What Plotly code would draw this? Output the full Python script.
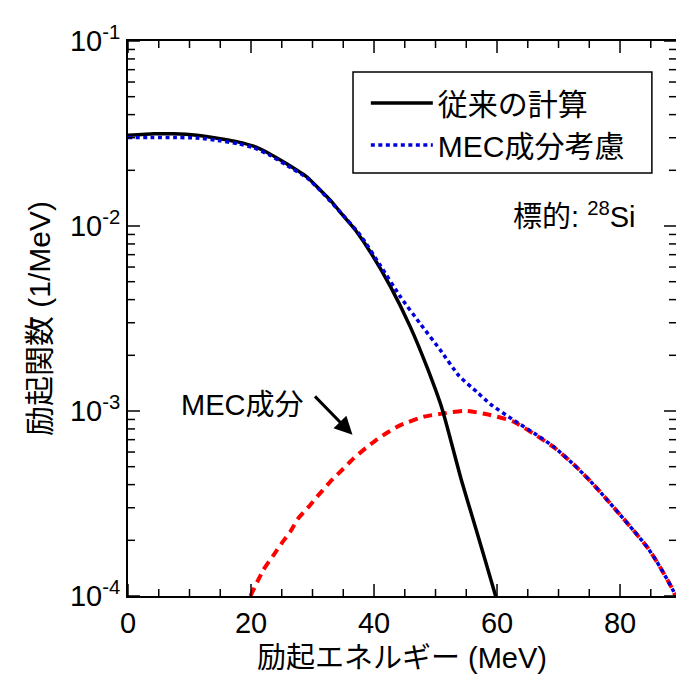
import plotly.graph_objects as go

# --- data ---
conv_x = [0, 4.2, 7.4, 11.2, 15, 18, 20.4, 23, 25.8, 29.1, 31.3, 32.9, 34.5, 36.1, 37.2, 39.4,
          42.7, 45.9, 48.6, 51.1, 54.2, 56.6, 59.7, 60.1]
conv_y = [0.0309, 0.0315, 0.0315, 0.0309, 0.0296, 0.0284, 0.0270, 0.0246, 0.0217, 0.0184,
          0.0156, 0.0138, 0.0119, 0.0103, 0.00929, 0.00724, 0.00469, 0.00285, 0.00173,
          0.00102, 0.000424, 0.000229, 0.000102, 0.0000912]

tot_x = [0, 4.2, 7.4, 11.2, 15, 18, 20.4, 23, 25.8, 29.1, 31.3, 34.5, 37.8, 41.0, 44.3, 47.5,
         50.8, 53.8, 56.7, 58.9, 62.7, 66.5, 69.2, 72.5, 75.2, 77.9, 80.0, 82.2, 84.4, 86.0,
         87.6, 88.7, 89.2]
tot_y = [0.0301, 0.0301, 0.0301, 0.0299, 0.0289, 0.0278, 0.0265, 0.0242, 0.0213, 0.0182,
         0.0155, 0.0119, 0.00891, 0.00614, 0.00414, 0.00297, 0.00213, 0.00155, 0.00127,
         0.00109, 0.000893, 0.000741, 0.000641, 0.000513, 0.000417, 0.000331, 0.000275,
         0.000226, 0.000184, 0.000153, 0.000124, 0.000106, 0.0000955]

mec_x = [19.9, 22.0, 23.7, 25.0, 26.4, 27.7, 29.4, 31.0, 32.9, 34.8, 36.7, 38.6, 40.5, 42.4,
         44.3, 48.1, 51.3, 54.8, 58.9, 62.7, 66.5, 69.2, 72.5, 75.2, 77.9, 80.0, 82.2, 84.4,
         86.0, 87.6, 88.7, 89.2]
mec_y = [0.0001, 0.000138, 0.000167, 0.000193, 0.000223, 0.000263, 0.000304, 0.000352,
         0.000415, 0.00048, 0.000555, 0.000628, 0.000703, 0.000773, 0.000839, 0.000931,
         0.000971, 0.001002, 0.000951, 0.000875, 0.000733, 0.000638, 0.000513, 0.000417,
         0.000331, 0.000275, 0.000226, 0.000184, 0.000153, 0.000124, 0.000106, 0.0000955]

y_tickvals = [1e-4, 1e-3, 1e-2, 1e-1]
y_ticktext = ["10<sup>-4</sup>", "10<sup>-3</sup>", "10<sup>-2</sup>", "10<sup>-1</sup>"]
y_minorvals = [k * 10 ** e for e in (-4, -3, -2) for k in range(2, 10)]
x_tickvals = [0, 20, 40, 60, 80]
x_minorvals = [5, 10, 15, 25, 30, 35, 45, 50, 55, 65, 70, 75, 85]

X_RANGE = [0, 89.1]
Y_RANGE = [-4, -1]
FONT = "Liberation Sans, Arial, Noto Sans CJK JP, sans-serif"

W, H = 676, 682
M = dict(l=128, r=0, t=41, b=86)
PLOT_W = W - M["l"] - M["r"]
PLOT_H = H - M["t"] - M["b"]
X_PER_PX = (X_RANGE[1] - X_RANGE[0]) / PLOT_W
DEC_PER_PX = (Y_RANGE[1] - Y_RANGE[0]) / PLOT_H

fig = go.Figure()
fig.add_trace(go.Scatter(x=mec_x, y=mec_y, mode="lines", showlegend=False,
                         line=dict(color="#ff0000", width=4, dash="9px,6px", shape="spline",
                                   smoothing=0.6)))
fig.add_trace(go.Scatter(x=conv_x, y=conv_y, mode="lines", name="従来の計算",
                         line=dict(color="#000000", width=3.5, shape="spline", smoothing=0.5)))
fig.add_trace(go.Scatter(x=tot_x, y=tot_y, mode="lines", name="MEC成分考慮",
                         line=dict(color="#0000dd", width=3.5, dash="4px,3.5px",
                                   shape="spline", smoothing=0.5)))

# inside tick marks on all four sides, built from the tick arrays (major 12 px, minor 7 px)
tx, ty = [], []
y_lo, y_hi = 10 ** Y_RANGE[0], 10 ** Y_RANGE[1]
for vals, length in ((x_tickvals, 12), (x_minorvals, 7)):
    f = 10 ** (length * DEC_PER_PX)
    for v in vals:
        tx += [v, v, None, v, v, None]
        ty += [y_lo, y_lo * f, None, y_hi, y_hi / f, None]
for vals, length in ((y_tickvals, 12), (y_minorvals, 7)):
    d = length * X_PER_PX
    for v in vals:
        tx += [X_RANGE[0], X_RANGE[0] + d, None, X_RANGE[1], X_RANGE[1] - d, None]
        ty += [v, v, None, v, v, None]
fig.add_trace(go.Scatter(x=tx, y=ty, mode="lines", showlegend=False, hoverinfo="skip",
                         line=dict(color="black", width=1.5), connectgaps=False,
                         cliponaxis=False))

fig.update_layout(
    template="none",
    width=W, height=H,
    margin=M,
    paper_bgcolor="white", plot_bgcolor="white",
    font=dict(family=FONT, size=29, color="black"),
    showlegend=True,
    legend=dict(x=0.434, y=0.935, xanchor="left", yanchor="top",
                bgcolor="rgba(0,0,0,0)", borderwidth=0,
                font=dict(size=30), itemwidth=62, tracegroupgap=0),
    xaxis=dict(range=X_RANGE, tickmode="array", tickvals=x_tickvals, ticks="",
               showline=True, linecolor="black", linewidth=2, mirror=True,
               showgrid=False, zeroline=False,
               title=dict(text="励起エネルギー (MeV)", font=dict(size=29), standoff=10)),
    yaxis=dict(type="log", range=Y_RANGE, tickmode="array", tickvals=y_tickvals,
               ticktext=y_ticktext, ticks="",
               showline=True, linecolor="black", linewidth=2, mirror=True,
               showgrid=False, zeroline=False,
               title=dict(text="励起関数 (1/MeV)", font=dict(size=30), standoff=10)),
)

# legend frame
fig.add_shape(type="rect", xref="paper", yref="paper", x0=0.4106, x1=0.956, y0=0.762, y1=0.944,
              line=dict(color="black", width=1.5), fillcolor="rgba(0,0,0,0)")

fig.add_annotation(x=72.5, y=-1.941, xref="x", yref="y", text="標的: <sup>28</sup>Si",
                   showarrow=False, font=dict(size=29))
fig.add_annotation(x=18.5, y=-2.967, xref="x", yref="y", text="MEC成分",
                   showarrow=False, font=dict(size=29))
fig.add_annotation(x=36.5, y=-3.129, xref="x", yref="y", text="", showarrow=True,
                   ax=-39, ay=-40, arrowhead=2, arrowsize=1.2, arrowwidth=3, arrowcolor="black")

fig.write_html("out.html")
